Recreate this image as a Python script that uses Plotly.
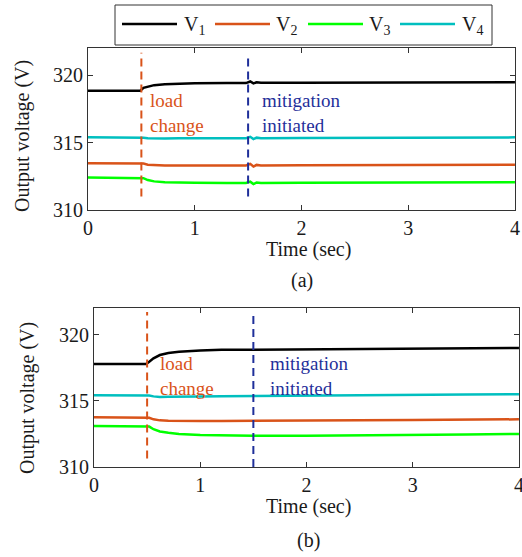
import plotly.graph_objects as go

# ---------------- data ----------------
series_labels = ["V<sub>1</sub>", "V<sub>2</sub>", "V<sub>3</sub>", "V<sub>4</sub>"]
series_colors = ["#000000", "#D95319", "#00FF00", "#00BFBF"]

t_a = [0, 0.49, 0.52, 0.56, 0.62, 0.72, 0.85, 1.0, 1.3, 1.48, 1.52, 1.55, 1.58, 1.62, 2.0, 2.5, 3.0, 3.5, 4.0]
v1_a = [318.84, 318.84, 319.05, 319.15, 319.25, 319.32, 319.36, 319.38, 319.40, 319.40, 319.52, 319.38, 319.46, 319.42, 319.43, 319.44, 319.45, 319.46, 319.47]
v2_a = [313.46, 313.46, 313.44, 313.36, 313.32, 313.30, 313.30, 313.30, 313.30, 313.30, 313.42, 313.22, 313.34, 313.30, 313.31, 313.32, 313.33, 313.34, 313.35]
v3_a = [312.40, 312.40, 312.36, 312.22, 312.12, 312.06, 312.03, 312.02, 312.00, 312.00, 312.10, 311.92, 312.04, 312.00, 312.01, 312.02, 312.03, 312.04, 312.05]
v4_a = [315.38, 315.38, 315.36, 315.32, 315.30, 315.30, 315.31, 315.32, 315.32, 315.32, 315.42, 315.25, 315.36, 315.32, 315.33, 315.34, 315.35, 315.37, 315.38]

t_b = [0, 0.49, 0.52, 0.56, 0.62, 0.7, 0.8, 1.0, 1.2, 1.5, 2.0, 2.5, 3.0, 3.5, 4.0]
v1_b = [317.78, 317.78, 317.95, 318.20, 318.45, 318.60, 318.70, 318.80, 318.84, 318.86, 318.88, 318.90, 318.93, 318.96, 318.99]
v2_b = [313.76, 313.76, 313.72, 313.60, 313.52, 313.50, 313.48, 313.48, 313.48, 313.48, 313.50, 313.52, 313.54, 313.57, 313.60]
v3_b = [313.10, 313.10, 313.05, 312.85, 312.68, 312.58, 312.50, 312.42, 312.38, 312.36, 312.36, 312.38, 312.42, 312.46, 312.50]
v4_b = [315.42, 315.42, 315.40, 315.33, 315.28, 315.30, 315.32, 315.33, 315.34, 315.35, 315.37, 315.40, 315.43, 315.47, 315.50]

load_change_t = 0.5
mitigation_t = 1.5
x_ticks = [0, 1, 2, 3, 4]
y_ticks = [310, 315, 320]

# ---------------- figure ----------------
W, H = 522, 557
FONT = "Liberation Serif, Times New Roman, serif"
TXT = "#1a1a1a"
ORANGE = "#D95319"
NAVY = "#1F2F9A"


def px(x):
    return x / W


def py(y):
    return 1 - y / H


fig = go.Figure()

panels = [
    ("x", "y", t_a, [v1_a, v2_a, v3_a, v4_a]),
    ("x2", "y2", t_b, [v1_b, v2_b, v3_b, v4_b]),
]
for xa, ya, t, vals in panels:
    for lab, col, v in zip(series_labels, series_colors, vals):
        fig.add_trace(go.Scatter(
            x=t, y=v, mode="lines", name=lab, xaxis=xa, yaxis=ya,
            line=dict(color=col, width=2.5), showlegend=False,
        ))

# dashed event lines
dash_specs = [
    ("x", "y", load_change_t, 311.0, 321.65, ORANGE),
    ("x", "y", mitigation_t, 311.0, 321.6, NAVY),
    ("x2", "y2", load_change_t, 310.65, 321.7, ORANGE),
    ("x2", "y2", mitigation_t, 310.0, 321.75, NAVY),
]
for xa, ya, xv, y0, y1, col in dash_specs:
    fig.add_trace(go.Scatter(
        x=[xv, xv], y=[y0, y1], mode="lines", xaxis=xa, yaxis=ya,
        line=dict(color=col, width=2, dash="8px,5px"), showlegend=False,
        hoverinfo="skip", cliponaxis=False,
    ))

ann_font = dict(family=FONT, size=19)
annotations = [
    dict(x=0.56, y=317.16, xref="x", yref="y", text="load<br>change", showarrow=False,
         xanchor="left", yanchor="middle", align="left", font=dict(ann_font, color=ORANGE)),
    dict(x=1.615, y=317.16, xref="x", yref="y", text="mitigation<br>initiated", showarrow=False,
         xanchor="left", yanchor="middle", align="left", font=dict(ann_font, color=NAVY)),
    dict(x=0.605, y=316.86, xref="x2", yref="y2", text="load<br>change", showarrow=False,
         xanchor="left", yanchor="middle", align="left", font=dict(ann_font, color=ORANGE)),
    dict(x=1.64, y=316.86, xref="x2", yref="y2", text="mitigation<br>initiated", showarrow=False,
         xanchor="left", yanchor="middle", align="left", font=dict(ann_font, color=NAVY)),
]

title_font = dict(family=FONT, size=20, color=TXT)
# axis titles and panel labels
annotations += [
    dict(x=px(308), y=py(249), xref="paper", yref="paper", text="Time (sec)", showarrow=False,
         xanchor="center", yanchor="middle", font=title_font),
    dict(x=px(308), y=py(506), xref="paper", yref="paper", text="Time (sec)", showarrow=False,
         xanchor="center", yanchor="middle", font=title_font),
    dict(x=px(22), y=py(136), xref="paper", yref="paper", text="Output voltage (V)", showarrow=False,
         textangle=-90, xanchor="center", yanchor="middle", font=title_font),
    dict(x=px(27), y=py(398), xref="paper", yref="paper", text="Output voltage (V)", showarrow=False,
         textangle=-90, xanchor="center", yanchor="middle", font=title_font),
    dict(x=px(302), y=py(280), xref="paper", yref="paper", text="(a)", showarrow=False,
         xanchor="center", yanchor="middle", font=title_font),
    dict(x=px(308), y=py(540), xref="paper", yref="paper", text="(b)", showarrow=False,
         xanchor="center", yanchor="middle", font=title_font),
]

# legend (drawn in paper space)
shapes = [dict(type="rect", xref="paper", yref="paper", x0=px(115), x1=px(492), y0=py(45), y1=py(5),
               line=dict(color="#333333", width=1), fillcolor="white", layer="above")]
leg_line_x = [122, 215, 308, 400]
leg_text_x = [182, 274, 367, 460]
for lab, col, lx, tx in zip(series_labels, series_colors, leg_line_x, leg_text_x):
    shapes.append(dict(type="line", xref="paper", yref="paper", x0=px(lx), x1=px(lx + 55),
                       y0=py(24), y1=py(24), line=dict(color=col, width=2.5), layer="above"))
    annotations.append(dict(x=px(tx), y=py(25), xref="paper", yref="paper", text=lab,
                            showarrow=False, xanchor="left", yanchor="middle",
                            font=dict(family=FONT, size=20, color=TXT)))

axis_common = dict(
    showgrid=False, zeroline=False, showline=True, linecolor="#333333", linewidth=1,
    mirror="ticks", ticks="inside", ticklen=5, tickcolor="#333333", automargin=False,
    tickfont=dict(family=FONT, size=20, color=TXT), ticklabeloverflow="allow",
)

fig.update_layout(
    width=W, height=H,
    margin=dict(l=0, r=0, t=0, b=0, autoexpand=False),
    paper_bgcolor="white", plot_bgcolor="white",
    font=dict(family=FONT, color=TXT),
    showlegend=False,
    xaxis=dict(axis_common, domain=[px(88), px(515)], range=[0, 4.0005], tickvals=x_ticks, anchor="y"),
    yaxis=dict(axis_common, domain=[py(210), py(48)], range=[310, 322], tickvals=y_ticks, anchor="x"),
    xaxis2=dict(axis_common, domain=[px(94), px(519)], range=[0, 4.0005], tickvals=x_ticks, anchor="y2"),
    yaxis2=dict(axis_common, domain=[py(467), py(308)], range=[310, 322], tickvals=y_ticks, anchor="x2"),
    annotations=annotations,
    shapes=shapes,
)

fig.write_html(
    "out.html",
    config={"displayModeBar": False},
    post_script="document.body.style.margin='0';document.body.style.overflow='hidden';",
)
